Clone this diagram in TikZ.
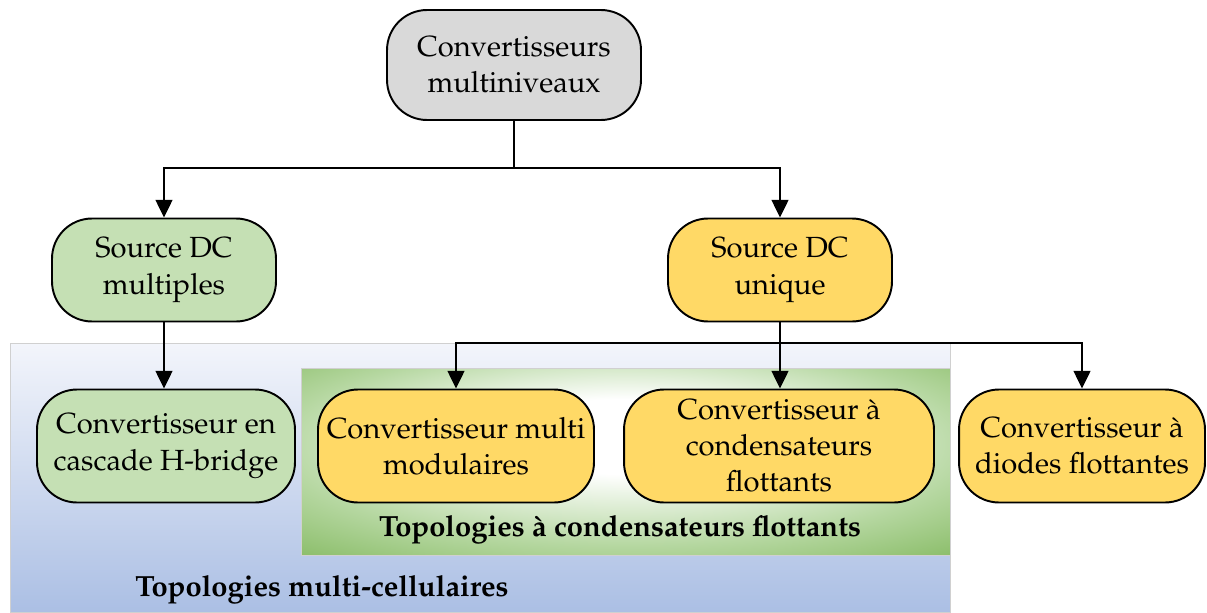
\documentclass[tikz,border=0pt]{standalone}
\usepackage[T1]{fontenc}
\usepackage{mathpazo}
\usetikzlibrary{arrows.meta}
\definecolor{boxgray}{HTML}{D9D9D9}
\definecolor{boxgreen}{HTML}{C5E0B4}
\definecolor{boxyellow}{HTML}{FFD966}
\definecolor{blueT}{HTML}{F3F5FB}
\definecolor{blueB}{HTML}{ABBFE4}
\definecolor{gOuter}{HTML}{70AD47}
\definecolor{gMid}{HTML}{B5D7A0}
\definecolor{frameline}{HTML}{D0D0D0}
\pgfdeclareradialshading{greenglow}{\pgfpoint{0bp}{8bp}}{color(0bp)=(white); color(10bp)=(white); color(27bp)=(gMid); color(45bp)=(gOuter); color(60bp)=(gOuter)}
\begin{document}
\begin{tikzpicture}[x=0.02cm,y=-0.02cm,
  box/.style={draw=black, line width=1.1pt, rounded corners=0.8cm, align=center,
    font=\fontsize{16.6}{20.5}\selectfont, inner sep=0pt},
  topbox/.style={box, fill=boxgray},
  greenbox/.style={box, fill=boxgreen},
  yellowbox/.style={box, fill=boxyellow},
  ln/.style={line width=1.1pt},
  arr/.style={line width=1.1pt, -{Triangle[length=10pt,width=9.5pt]}},
  lab/.style={font=\fontsize{16.6}{20.5}\selectfont\bfseries}]
\useasboundingbox (0,0) rectangle (1207,612);
% backgrounds
\shade[top color=blueT, bottom color=blueB, draw=frameline] (10,343) rectangle (950,612);
\shade[shading=greenglow, draw=frameline] (301,368) rectangle (950,555);
% nodes
\node[topbox, minimum width=5.08cm, minimum height=2.2cm] (top) at (514,65) {Convertisseurs\\multiniveaux};
\node[greenbox, minimum width=4.48cm, minimum height=2.06cm] (srcM) at (164,270) {Source DC\\multiples};
\node[yellowbox, minimum width=4.48cm, minimum height=2.06cm] (srcU) at (780,270) {Source DC\\unique};
\node[greenbox, minimum width=5.16cm, minimum height=2.26cm] (casc) at (166,446) {Convertisseur en\\cascade H-bridge};
\node[yellowbox, minimum width=5.52cm, minimum height=2.26cm] (multi) at (456,446) {Convertisseur multi\\modulaires};
\node[yellowbox, minimum width=6.2cm, minimum height=2.26cm] (cond) at (779,446) {Convertisseur à\\condensateurs\\flottants};
\node[yellowbox, minimum width=4.92cm, minimum height=2.26cm] (diod) at (1082,446) {Convertisseur à\\diodes flottantes};
\node[lab] (lab1) at (620,530) {Topologies à condensateurs flottants};
\node[lab] (lab2) at (322,590) {Topologies multi-cellulaires};
% connectors
\coordinate (j1) at (514,168);
\coordinate (j2) at (780,343);
\draw[ln] (top.south) -- (j1);
\draw[arr] (j1) -| (srcM.north);
\draw[arr] (j1) -| (srcU.north);
\draw[arr] (srcM.south) -- (srcM.south |- casc.north);
\draw[ln] (srcU.south) -- (j2);
\draw[arr] (j2) -| (multi.north);
\draw[arr] (j2) -- (j2 |- cond.north);
\draw[arr] (j2) -| (diod.north);
\end{tikzpicture}
\end{document}
